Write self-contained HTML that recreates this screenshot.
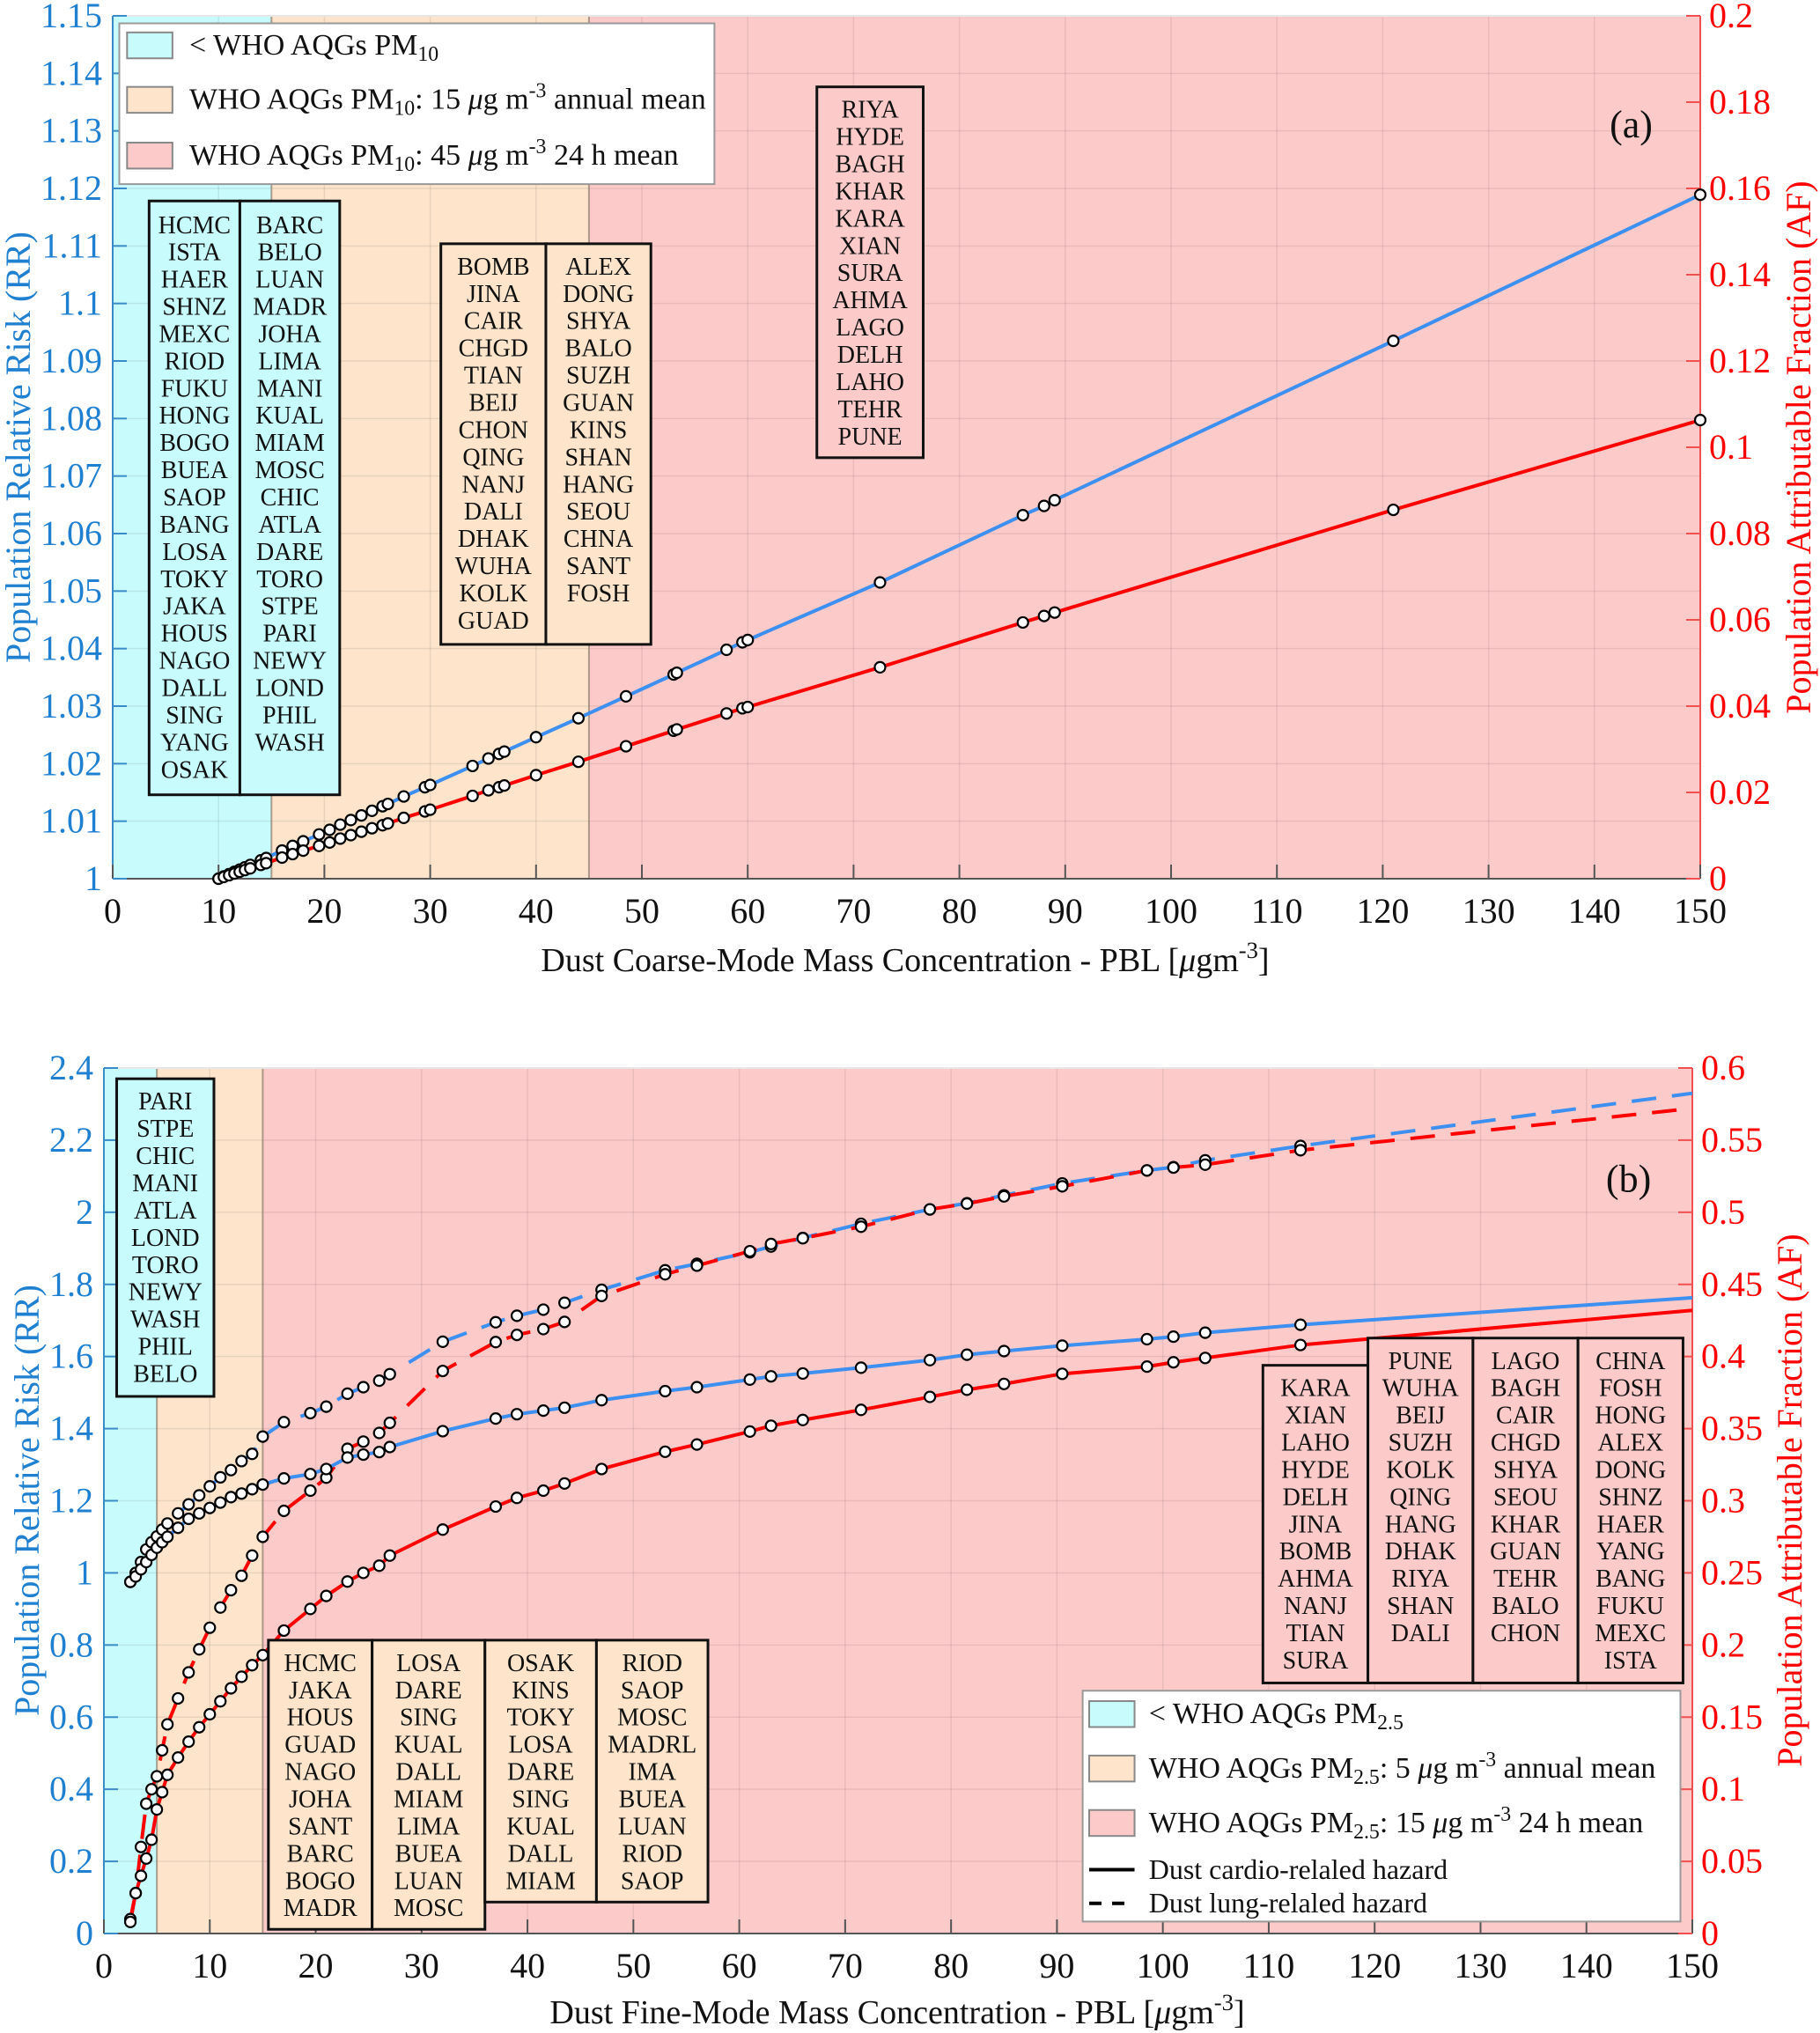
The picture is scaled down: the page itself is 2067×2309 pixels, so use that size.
<!DOCTYPE html>
<html><head><meta charset="utf-8"><style>
html,body{margin:0;padding:0;background:#fff}
svg{display:block;font-family:"Liberation Serif",serif}
svg text{font-family:"Liberation Serif",serif}
</style></head><body>
<svg id="c" width="2067" height="2309" viewBox="0 0 2067 2309" xmlns="http://www.w3.org/2000/svg"></svg>
<script>
// ---- Panel (a) data ----
const xA = [10,10.5,11,11.5,12,12.5,13,14,14.5,16,17,18,19.5,20.5,21.5,22.5,23.5,24.5,25.5,26,27.5,29.5,30,34,35.5,36.5,37,40,44,48.5,53,53.3,58,59.5,60,72.5,86,88,89,121,150];
const rrA = [1.0,1.0004,1.0008,1.0012,1.0016,1.002,1.0024,1.0032,1.0036,1.0049,1.0057,1.0065,1.0077,1.0085,1.0094,1.0102,1.011,1.0118,1.0126,1.013,1.0143,1.0159,1.0163,1.0196,1.0209,1.0217,1.0221,1.0246,1.0279,1.0317,1.0355,1.0358,1.0398,1.0411,1.0415,1.0515,1.0632,1.0648,1.0658,1.0935,1.1189];
const afA = [0,0.0004,0.0008,0.0012,0.0016,0.002,0.0024,0.0032,0.0036,0.0049,0.0057,0.0065,0.0076,0.0084,0.0093,0.0101,0.0109,0.0117,0.0124,0.0128,0.0141,0.0156,0.016,0.0192,0.0205,0.0212,0.0216,0.024,0.0271,0.0307,0.0343,0.0346,0.0383,0.0395,0.0398,0.049,0.0594,0.0609,0.0617,0.0855,0.1063];
const xTicksA = [0,10,20,30,40,50,60,70,80,90,100,110,120,130,140,150];
const yTicksA = [1,1.01,1.02,1.03,1.04,1.05,1.06,1.07,1.08,1.09,1.1,1.11,1.12,1.13,1.14,1.15];
const yTickLabelsA = ["1","1.01","1.02","1.03","1.04","1.05","1.06","1.07","1.08","1.09","1.1","1.11","1.12","1.13","1.14","1.15"];
const y2TicksA = [0,0.02,0.04,0.06,0.08,0.1,0.12,0.14,0.16,0.18,0.2];
const y2TickLabelsA = ["0","0.02","0.04","0.06","0.08","0.1","0.12","0.14","0.16","0.18","0.2"];
// ---- Panel (b) data ----
const xB = [2.5,3,3.5,4,4.5,5,5.5,6,7,8,9,10,11,12,13,14,15,17,19.5,21,23,24.5,26,27,32,37,39,41.5,43.5,47,53,56,61,63,66,71.5,78,81.5,85,90.5,98.5,101,104,113,150];
const cardioRR = [0.975,0.99,1.01,1.03,1.05,1.07,1.085,1.1,1.125,1.15,1.165,1.18,1.195,1.21,1.22,1.232,1.245,1.262,1.274,1.288,1.32,1.328,1.335,1.349,1.393,1.428,1.44,1.45,1.458,1.479,1.504,1.515,1.536,1.545,1.553,1.569,1.59,1.605,1.615,1.63,1.648,1.655,1.666,1.688,1.763];
const cardioAF = [0.008,0.028,0.04,0.052,0.065,0.086,0.098,0.11,0.122,0.133,0.143,0.152,0.161,0.17,0.178,0.186,0.193,0.21,0.225,0.234,0.244,0.25,0.255,0.262,0.28,0.296,0.302,0.307,0.312,0.322,0.334,0.339,0.348,0.352,0.356,0.363,0.372,0.377,0.381,0.388,0.393,0.396,0.399,0.408,0.432];
const lungRR = [0.975,1.0,1.03,1.065,1.085,1.101,1.12,1.137,1.165,1.19,1.215,1.24,1.265,1.285,1.31,1.33,1.378,1.418,1.443,1.461,1.497,1.515,1.533,1.551,1.641,1.695,1.713,1.73,1.749,1.785,1.839,1.857,1.889,1.905,1.929,1.968,2.008,2.025,2.047,2.08,2.116,2.125,2.144,2.184,2.33];
const lungAF = [0.01,0.028,0.06,0.09,0.1,0.109,0.127,0.145,0.163,0.181,0.197,0.212,0.226,0.238,0.248,0.262,0.275,0.293,0.307,0.316,0.336,0.341,0.347,0.354,0.39,0.41,0.415,0.419,0.424,0.442,0.457,0.463,0.473,0.478,0.482,0.49,0.502,0.506,0.511,0.518,0.529,0.531,0.533,0.543,0.572];
const xTicksB = [0,10,20,30,40,50,60,70,80,90,100,110,120,130,140,150];
const yTicksB = [0,0.2,0.4,0.6,0.8,1,1.2,1.4,1.6,1.8,2,2.2,2.4];
const yTickLabelsB = ["0","0.2","0.4","0.6","0.8","1","1.2","1.4","1.6","1.8","2","2.2","2.4"];
const y2TicksB = [0,0.05,0.1,0.15,0.2,0.25,0.3,0.35,0.4,0.45,0.5,0.55,0.6];
const y2TickLabelsB = ["0","0.05","0.1","0.15","0.2","0.25","0.3","0.35","0.4","0.45","0.5","0.55","0.6"];

const NS="http://www.w3.org/2000/svg";
const svg=document.getElementById('c');
const S=1.4726;
const FF='"Liberation Serif", serif';
function mk(tag,attrs,parent){const e=document.createElementNS(NS,tag);for(const k in attrs)e.setAttribute(k,attrs[k]);if(tag==='text')e.setAttribute('font-family',FF);(parent||svg).appendChild(e);return e;}
const BLUE="#1f7fd1", RED="#ff0000", CYAN="#c8fbfc", PEACH="#fde4cb", PINK="#fdcaca";
const LBLUE="#3d8ff0";
const TICK=40;

function panel(cfg){
  const g=mk('g',{});
  
  
  const L=cfg.L,R=cfg.R,T=cfg.T,B=cfg.B;
  const X=v=>L+(v-cfg.xmin)/(cfg.xmax-cfg.xmin)*(R-L);
  const Y=v=>B-(v-cfg.ymin)/(cfg.ymax-cfg.ymin)*(B-T);
  const Y2=v=>B-(v-cfg.y2min)/(cfg.y2max-cfg.y2min)*(B-T);
  const bands=[[cfg.xmin,cfg.b1,CYAN,'band-below-who'],[cfg.b1,cfg.b2,PEACH,'band-annual-mean'],[cfg.b2,cfg.xmax,PINK,'band-24h-mean']];
  bands.forEach(b=>{const r=mk('rect',{x:X(b[0]),y:T,width:X(b[1])-X(b[0]),height:B-T,fill:b[2]},g);
    });
  cfg.xt.forEach(v=>mk('line',{x1:X(v),x2:X(v),y1:T,y2:B,stroke:'#000','stroke-opacity':0.08,'stroke-width':1.5},g));
  cfg.yt.forEach(v=>mk('line',{x1:L,x2:R,y1:Y(v),y2:Y(v),stroke:'#000','stroke-opacity':0.08,'stroke-width':1.5},g));
  [cfg.b1,cfg.b2].forEach(v=>mk('line',{x1:X(v),x2:X(v),y1:T,y2:B,stroke:'#8a7a6a','stroke-width':2,'stroke-opacity':0.7},g));
  mk('line',{x1:L,x2:L,y1:T,y2:B,stroke:'#3a8cc8','stroke-width':2},g);
  mk('line',{x1:R,x2:R,y1:T,y2:B,stroke:'#f05050','stroke-width':2},g);
  mk('line',{x1:L,x2:R,y1:B,y2:B,stroke:'#555','stroke-width':2},g);
  mk('line',{x1:L,x2:R,y1:T,y2:T,stroke:'#e6e6e6','stroke-width':2},g);
  cfg.xt.forEach((v,i)=>{
    mk('line',{x1:X(v),x2:X(v),y1:B,y2:B-16,stroke:'#555','stroke-width':2},g);
    const t=mk('text',{x:X(v),y:B+50,'font-size':TICK,'text-anchor':'middle',fill:'#111'},g);t.textContent=String(v);
    
  });
  cfg.yt.forEach((v,i)=>{
    mk('line',{x1:L,x2:L+16,y1:Y(v),y2:Y(v),stroke:'#3a8cc8','stroke-width':2},g);
    const t=mk('text',{x:L-12,y:Y(v)+13,'font-size':TICK,'text-anchor':'end',fill:BLUE},g);t.textContent=cfg.ytl[i];
    
  });
  cfg.y2t.forEach((v,i)=>{
    mk('line',{x1:R,x2:R-16,y1:Y2(v),y2:Y2(v),stroke:'#f05050','stroke-width':2},g);
    const t=mk('text',{x:R+10,y:Y2(v)+13,'font-size':TICK,fill:RED},g);t.textContent=cfg.y2tl[i];
    
  });
  return {g,X,Y,Y2};
}
function polyline(g,xs,ys,fx,fy,color,dash,name){
  const p=mk('polyline',{points:xs.map((x,i)=>fx(x)+','+fy(ys[i])).join(' '),fill:'none',stroke:color,'stroke-width':4,'stroke-dasharray':dash||'none'},g);
  
}
function markers(g,xs,ys,fx,fy,n,name){
  for(let i=0;i<n;i++){const c=mk('circle',{cx:fx(xs[i]),cy:fy(ys[i]),r:6,fill:'#fff',stroke:'#000','stroke-width':2.2},g);
    }
}
function cityBox(g,x1,x2,yTop,yBot,fill,names,firstY,name){
  const r=mk('rect',{x:x1*S,y:yTop*S,width:(x2-x1)*S,height:(yBot-yTop)*S,fill:fill,stroke:'#111','stroke-width':3},g);
  
  names.forEach((n,i)=>{const t=mk('text',{x:(x1+x2)/2*S,y:(firstY+i*21)*S+10,'font-size':28,'text-anchor':'middle',fill:'#111'},g);t.textContent=n;
    });
}
function richText(g,x,y,parts,size,name,anchor){
  const t=mk('text',{x:x,y:y,'font-size':size,fill:'#111'},g);
  if(anchor)t.setAttribute('text-anchor',anchor);
  
  parts.forEach(p=>{const s=mk('tspan',{},t);
    if(p[1]==='sub'){s.setAttribute('font-size',size*0.7);s.setAttribute('baseline-shift','-30%');}
    else if(p[1]==='sup'){s.setAttribute('font-size',size*0.7);s.setAttribute('baseline-shift','55%');}
    else if(p[1]==='it'){s.setAttribute('font-style','italic');}
    s.textContent=p[0];});
}

// ===== Panel (a) =====
const A=panel({name:'panel-a',L:128,R:1931,T:18,B:998,xmin:0,xmax:150,ymin:1,ymax:1.15,y2min:0,y2max:0.2,b1:15,b2:45,
  xt:xTicksA,yt:yTicksA,ytl:yTickLabelsA,y2t:y2TicksA,y2tl:y2TickLabelsA});
polyline(A.g,xA,rrA,A.X,A.Y,LBLUE,null,'rr-line-coarse');
polyline(A.g,xA,afA,A.X,A.Y2,RED,null,'af-line-coarse');
markers(A.g,xA,rrA,A.X,A.Y,xA.length,'rr-point');
markers(A.g,xA,afA,A.X,A.Y2,xA.length,'af-point');
{const lg=mk('g',{},A.g);
 mk('rect',{x:92*S,y:18*S,width:459*S,height:124*S,fill:'#fff',stroke:'#999','stroke-width':2},lg);
 [[CYAN,35],[PEACH,77],[PINK,120]].forEach(s=>mk('rect',{x:98*S,y:(s[1]-10)*S,width:35*S,height:20*S,fill:s[0],stroke:'#888','stroke-width':2},lg));
 richText(lg,146*S,42*S,[['< WHO AQGs PM'],['10','sub']],34,'legend-entry');
 richText(lg,146*S,84*S,[['WHO AQGs PM'],['10','sub'],[': 15 '],['μ','it'],['g m'],['-3','sup'],[' annual mean']],34,'legend-entry');
 richText(lg,146*S,127*S,[['WHO AQGs PM'],['10','sub'],[': 45 '],['μ','it'],['g m'],['-3','sup'],[' 24 h mean']],34,'legend-entry');
}
cityBox(A.g,115,185,155,613,CYAN,['HCMC','ISTA','HAER','SHNZ','MEXC','RIOD','FUKU','HONG','BOGO','BUEA','SAOP','BANG','LOSA','TOKY','JAKA','HOUS','NAGO','DALL','SING','YANG','OSAK'],173,'city-box');
cityBox(A.g,185,262,155,613,CYAN,['BARC','BELO','LUAN','MADR','JOHA','LIMA','MANI','KUAL','MIAM','MOSC','CHIC','ATLA','DARE','TORO','STPE','PARI','NEWY','LOND','PHIL','WASH'],173,'city-box');
cityBox(A.g,340,421,188,497,PEACH,['BOMB','JINA','CAIR','CHGD','TIAN','BEIJ','CHON','QING','NANJ','DALI','DHAK','WUHA','KOLK','GUAD'],205,'city-box');
cityBox(A.g,421,502,188,497,PEACH,['ALEX','DONG','SHYA','BALO','SUZH','GUAN','KINS','SHAN','HANG','SEOU','CHNA','SANT','FOSH'],205,'city-box');
cityBox(A.g,630,712,67,353,PINK,['RIYA','HYDE','BAGH','KHAR','KARA','XIAN','SURA','AHMA','LAGO','DELH','LAHO','TEHR','PUNE'],84,'city-box');
{const t=mk('text',{x:1258*S,y:106*S,'font-size':44,'text-anchor':'middle',fill:'#111'},A.g);t.textContent='(a)';}
richText(svg,1028,1103,[['Dust Coarse-Mode Mass Concentration - PBL  ['],['μ','it'],['gm'],['-3','sup'],[']']],38,'x-axis-title-a','middle');
{const t=mk('text',{x:0,y:0,'font-size':40,'text-anchor':'middle',fill:BLUE,transform:'translate(34,508) rotate(-90)'});t.textContent='Population Relative Risk (RR)';}
{const t=mk('text',{x:0,y:0,'font-size':40,'text-anchor':'middle',fill:RED,transform:'translate(2056,508) rotate(-90)'});t.textContent='Population Attributable Fraction (AF)';}

// ===== Panel (b) =====
const Bp=panel({name:'panel-b',L:118,R:1922,T:1213,B:2196,xmin:0,xmax:150,ymin:0,ymax:2.4,y2min:0,y2max:0.6,b1:5,b2:15,
  xt:xTicksB,yt:yTicksB,ytl:yTickLabelsB,y2t:y2TicksB,y2tl:y2TickLabelsB});
polyline(Bp.g,xB,lungRR,Bp.X,Bp.Y,LBLUE,'28,18','rr-line-lung');
polyline(Bp.g,xB,lungAF,Bp.X,Bp.Y2,RED,'28,18','af-line-lung');
polyline(Bp.g,xB,cardioRR,Bp.X,Bp.Y,LBLUE,null,'rr-line-cardio');
polyline(Bp.g,xB,cardioAF,Bp.X,Bp.Y2,RED,null,'af-line-cardio');
const nB=xB.length-1;
markers(Bp.g,xB,lungRR,Bp.X,Bp.Y,nB,'lung-rr-point');
markers(Bp.g,xB,lungAF,Bp.X,Bp.Y2,nB,'lung-af-point');
markers(Bp.g,xB,cardioRR,Bp.X,Bp.Y,nB,'cardio-rr-point');
markers(Bp.g,xB,cardioAF,Bp.X,Bp.Y2,nB,'cardio-af-point');
cityBox(Bp.g,90,165,832,1077,CYAN,['PARI','STPE','CHIC','MANI','ATLA','LOND','TORO','NEWY','WASH','PHIL','BELO'],849,'city-box');
cityBox(Bp.g,207,287,1265,1488,PEACH,['HCMC','JAKA','HOUS','GUAD','NAGO','JOHA','SANT','BARC','BOGO','MADR'],1282,'city-box');
cityBox(Bp.g,287,374,1265,1488,PEACH,['LOSA','DARE','SING','KUAL','DALL','MIAM','LIMA','BUEA','LUAN','MOSC'],1282,'city-box');
cityBox(Bp.g,374,460,1265,1467,PEACH,['OSAK','KINS','TOKY','LOSA','DARE','SING','KUAL','DALL','MIAM'],1282,'city-box');
cityBox(Bp.g,460,546,1265,1467,PEACH,['RIOD','SAOP','MOSC','MADRL','IMA','BUEA','LUAN','RIOD','SAOP'],1282,'city-box');
cityBox(Bp.g,974,1055,1053,1298,PINK,['KARA','XIAN','LAHO','HYDE','DELH','JINA','BOMB','AHMA','NANJ','TIAN','SURA'],1070,'city-box');
cityBox(Bp.g,1055,1136,1032,1298,PINK,['PUNE','WUHA','BEIJ','SUZH','KOLK','QING','HANG','DHAK','RIYA','SHAN','DALI'],1049,'city-box');
cityBox(Bp.g,1136,1217,1032,1298,PINK,['LAGO','BAGH','CAIR','CHGD','SHYA','SEOU','KHAR','GUAN','TEHR','BALO','CHON'],1049,'city-box');
cityBox(Bp.g,1217,1298,1032,1298,PINK,['CHNA','FOSH','HONG','ALEX','DONG','SHNZ','HAER','YANG','BANG','FUKU','MEXC','ISTA'],1049,'city-box');
{const lg=mk('g',{},Bp.g);
 mk('rect',{x:835*S,y:1304*S,width:461*S,height:178*S,fill:'#fff',stroke:'#999','stroke-width':2},lg);
 [[CYAN,1322],[PEACH,1364],[PINK,1406]].forEach(s=>mk('rect',{x:840*S,y:(s[1]-10)*S,width:35*S,height:20*S,fill:s[0],stroke:'#888','stroke-width':2},lg));
 mk('line',{x1:840*S,x2:875*S,y1:1442*S,y2:1442*S,stroke:'#000','stroke-width':4},lg);
 mk('line',{x1:840*S,x2:875*S,y1:1468*S,y2:1468*S,stroke:'#000','stroke-width':4,'stroke-dasharray':'14,12'},lg);
 richText(lg,886*S,1329*S,[['< WHO AQGs PM'],['2.5','sub']],34,'legend-entry');
 richText(lg,886*S,1371*S,[['WHO AQGs PM'],['2.5','sub'],[': 5 '],['μ','it'],['g m'],['-3','sup'],[' annual mean']],34,'legend-entry');
 richText(lg,886*S,1413*S,[['WHO AQGs PM'],['2.5','sub'],[': 15 '],['μ','it'],['g m'],['-3','sup'],[' 24 h mean']],34,'legend-entry');
 richText(lg,886*S,1449*S,[['Dust cardio-relaled hazard']],32,'legend-entry');
 richText(lg,886*S,1475*S,[['Dust lung-relaled hazard']],32,'legend-entry');
}
{const t=mk('text',{x:1256*S,y:919*S,'font-size':44,'text-anchor':'middle',fill:'#111'},Bp.g);t.textContent='(b)';}
richText(svg,1019,2298,[['Dust Fine-Mode Mass Concentration - PBL  ['],['μ','it'],['gm'],['-3','sup'],[']']],38,'x-axis-title-b','middle');
{const t=mk('text',{x:0,y:0,'font-size':40,'text-anchor':'middle',fill:BLUE,transform:'translate(44,1704) rotate(-90)'});t.textContent='Population Relative Risk (RR)';}
{const t=mk('text',{x:0,y:0,'font-size':40,'text-anchor':'middle',fill:RED,transform:'translate(2046,1704) rotate(-90)'});t.textContent='Population Attributable Fraction (AF)';}
</script>
</body></html>
